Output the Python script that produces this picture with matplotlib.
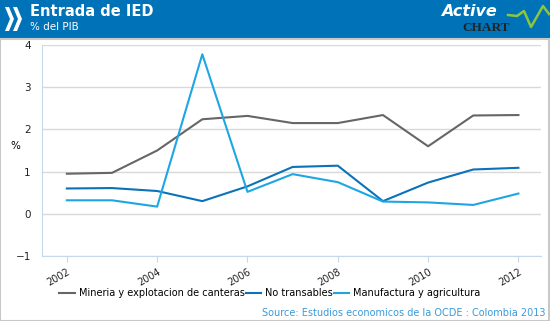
import matplotlib
matplotlib.use('Agg')
import matplotlib.pyplot as plt
from matplotlib.patches import Rectangle, Polygon
from matplotlib.lines import Line2D

years = [2002, 2003, 2004, 2005, 2006, 2007, 2008, 2009, 2010, 2011, 2012]
mineria = [0.95, 0.97, 1.50, 2.24, 2.32, 2.15, 2.15, 2.34, 1.60, 2.33, 2.34]
no_transables = [0.60, 0.61, 0.54, 0.30, 0.65, 1.11, 1.14, 0.30, 0.74, 1.05, 1.09]
manufactura = [0.32, 0.32, 0.17, 3.78, 0.52, 0.94, 0.75, 0.29, 0.27, 0.21, 0.48]
labels = ['Mineria y explotacion de canteras', 'No transables', 'Manufactura y agricultura']
colors = ['#666666', '#0b72b9', '#1ea6e4']

W, H = 550, 321
fig = plt.figure(figsize=(W / 100, H / 100), dpi=100)

# header band
fig.patches.append(Rectangle((0, 1 - 38 / H), 1, 38 / H, transform=fig.transFigure,
                             facecolor='#0072b8', edgecolor='none', zorder=0))
fig.patches.append(Rectangle((0, 0), 1 - 1 / W, 1 - 39 / H, transform=fig.transFigure,
                             facecolor='none', edgecolor='#c8c8c8', lw=1.5, zorder=0))
# chevrons
for x0 in (5, 13):
    pts = [(x0, 7), (x0 + 4, 7), (x0 + 9, 19), (x0 + 4, 31), (x0, 31), (x0 + 5, 19)]
    fig.patches.append(Polygon([(px / W, 1 - py / H) for px, py in pts], closed=True,
                               transform=fig.transFigure, facecolor='white', edgecolor='none'))
fig.text(30 / W, 1 - 12 / H, 'Entrada de IED', color='white', fontsize=10.5,
         fontweight='bold', va='center', ha='left')
fig.text(30 / W, 1 - 27 / H, '% del PIB', color='white', fontsize=7.5, va='center', ha='left')

# logo
fig.text(441 / W, 1 - 11 / H, 'Active', color='white', fontsize=11.5, fontweight='bold',
         style='italic', va='center', ha='left', family='DejaVu Sans')
fig.text(462 / W, 1 - 28 / H, 'CHART', color='#222222', fontsize=9.5, fontweight='bold',
         va='center', ha='left', family='Liberation Serif')
zig = [(508, 15), (517, 16), (524, 11), (531, 27), (543, 6), (549, 14)]
fig.lines.append(Line2D([p[0] / W for p in zig], [1 - p[1] / H for p in zig],
                        transform=fig.transFigure, color='#8cc63f', lw=1.8))

ax = fig.add_axes([42 / W, 1 - 256 / H, 499 / W, 211 / H])
for vals, lab, c in zip([mineria, no_transables, manufactura], labels, colors):
    ax.plot(years, vals, color=c, lw=1.5, label=lab)

ax.set_xlim(2001.45, 2012.5)
ax.set_ylim(-1, 4)
ax.set_yticks([-1, 0, 1, 2, 3, 4])
ax.set_xticks([2002, 2004, 2006, 2008, 2010, 2012])
ax.grid(axis='y', color='#d9d9d9', lw=1)
ax.set_axisbelow(True)
for s in ('top', 'right'):
    ax.spines[s].set_visible(False)
for s in ('left', 'bottom'):
    ax.spines[s].set_color('#c6d8ea')
ax.tick_params(axis='y', length=0, labelsize=7.5, pad=8, colors='#222222')
ax.tick_params(axis='x', length=4, color='#c6d8ea', labelsize=7, colors='#222222')
plt.setp(ax.get_xticklabels(), rotation=30, ha='right', rotation_mode='anchor')
ax.set_ylabel('%', fontsize=7.5, rotation=0, va='center')
ax.yaxis.set_label_coords(-27 / 499, 0.52)

fig.legend(loc='center', bbox_to_anchor=(270 / W, 1 - 293 / H), ncol=3, frameon=False,
           fontsize=7, handlelength=1.6, handletextpad=0.4, columnspacing=0.1)
fig.text(545 / W, 1 - 313 / H, 'Source: Estudios economicos de la OCDE : Colombia 2013',
         color='#3a9ad9', fontsize=7, ha='right', va='center')

fig.savefig('out.png', dpi=100)
